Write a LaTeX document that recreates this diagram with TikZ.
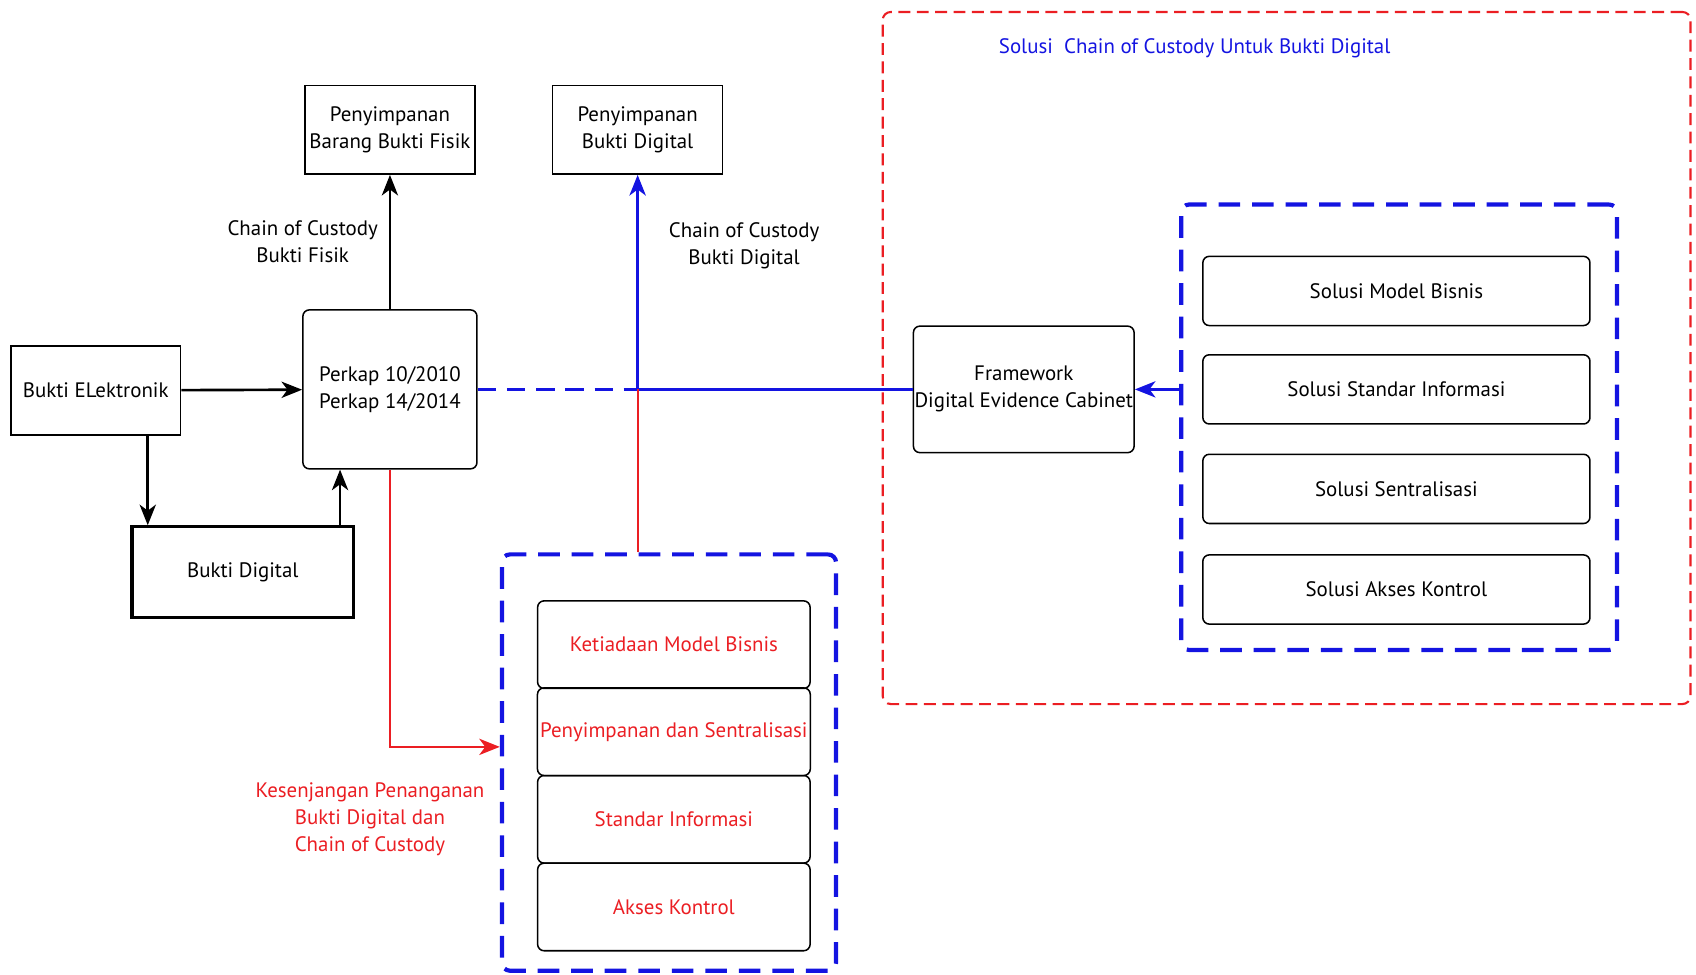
\documentclass[tikz,border=0pt]{standalone}
\usepackage{fontspec}
\setmainfont{PT Sans}
\usetikzlibrary{arrows.meta}
\definecolor{dblue}{RGB}{20,20,225}
\definecolor{dred}{RGB}{235,30,35}
\tikzstyle{box} = [draw, line width=.8pt, minimum width=3.14cm, minimum height=1.64cm, align=center, inner sep=.5mm]
\tikzstyle{rbox} = [box, rounded corners=1.2mm]
\tikzstyle{sol} = [rbox, minimum width=7.16cm, minimum height=1.28cm]
\tikzstyle{gap} = [rbox, text=dred, minimum width=5.04cm, minimum height=1.62cm]
\tikzstyle{grp} = [draw=dblue, line width=2.2pt, dash pattern=on 4mm off 2.2mm, rounded corners=1.5mm, inner sep=0mm]
\tikzstyle{lbl} = [align=center, inner sep=.5mm]
\tikzstyle{arr} = [line width=1.4pt]

\begin{document}
\begin{tikzpicture}[x=0.02cm, y=-0.02cm, >={Stealth[length=3.8mm, width=3mm, inset=1.1mm]},
    font=\fontsize{11}{14.2}\selectfont]
    \useasboundingbox (0,0) rectangle (1568,901);

    % kiri: bukti dan perkap
    \node[box] (belek) at (88.5,361) {Bukti ELektronik};
    \node[box, line width=1.6pt, minimum width=4.1cm, minimum height=1.68cm] (bdig) at (224.5,529) {Bukti Digital};
    \node[rbox, minimum width=3.22cm, minimum height=2.94cm] (perkap) at (360.5,360) {Perkap 10/2010\\Perkap 14/2014};
    \node[box] (pfisik) at (360.5,120) {Penyimpanan\\Barang Bukti Fisik};
    \node[box] (pdig) at (589.5,120) {Penyimpanan\\Bukti Digital};

    % kesenjangan
    \node[grp, minimum width=6.18cm, minimum height=7.70cm] (gapgrp) at (618.5,705) {};
    \foreach \n/\y/\t in {1/596/Ketiadaan Model Bisnis, 2/676.5/Penyimpanan dan Sentralisasi,
        3/757.5/Standar Informasi, 4/838.5/Akses Kontrol}
    \node[gap] (g\n) at (623,\y) {\t};
    \node[lbl, text=dred] (gaplbl) at (342,757) {Kesenjangan Penanganan\\Bukti Digital dan\\Chain of Custody};

    % solusi
    \node[draw=dred, line width=1.1pt, dash pattern=on 2.2mm off 1.2mm, rounded corners=1.5mm,
        minimum width=14.94cm, minimum height=12.8cm] (solarea) at (1189.5,331) {};
    \node[lbl, text=dblue] (soltitle) at (1104.5,45) {Solusi\ \ Chain of Custody Untuk Bukti Digital};
    \node[rbox, minimum width=4.06cm, minimum height=2.34cm, inner sep=.2mm] (fw) at (946.5,360) {Framework\\Digital Evidence Cabinet};
    \node[grp, minimum width=8.06cm, minimum height=8.24cm] (solgrp) at (1293.5,395) {};
    \foreach \n/\y/\t in {1/269/Solusi Model Bisnis, 2/360/Solusi Standar Informasi,
        3/452/Solusi Sentralisasi, 4/545/Solusi Akses Kontrol}
    \node[sol] (s\n) at (1291,\y) {\t};

    % panah
    \coordinate (jn) at (pdig.south |- perkap.east);
    \draw[arr, ->] (belek) -- (perkap);
    \draw[arr, ->] ([xshift=.32cm]bdig.north west |- belek.south) -- ([xshift=.32cm]bdig.north west);
    \draw[arr, ->] ([xshift=-.28cm]bdig.north east) -- ([xshift=-.28cm]bdig.north east |- perkap.south);
    \draw[arr, ->] (perkap) -- node[lbl, left=1.5mm] (cocfisik) {Chain of Custody\\Bukti Fisik} (pfisik);
    \draw[dblue, line width=1.4pt, dash pattern=on 3.4mm off 2mm] (perkap.east) -- (jn);
    \draw[dblue, line width=1.4pt] (jn) -- (fw.west);
    \draw[dred, line width=1.1pt] (jn |- gapgrp.north) -- (jn);
    \draw[dblue, line width=1.7pt, ->] (jn) -- node[lbl, text=black, pos=.67, right=5mm] (cocdig) {Chain of Custody\\Bukti Digital} (pdig.south);
    \draw[dred, line width=1.4pt, ->] (perkap.south) |- ([yshift=.29cm]gapgrp.west);
    \draw[dblue, line width=1.4pt, ->] (fw.east -| solgrp.west) -- (fw.east);
\end{tikzpicture}
\end{document}
